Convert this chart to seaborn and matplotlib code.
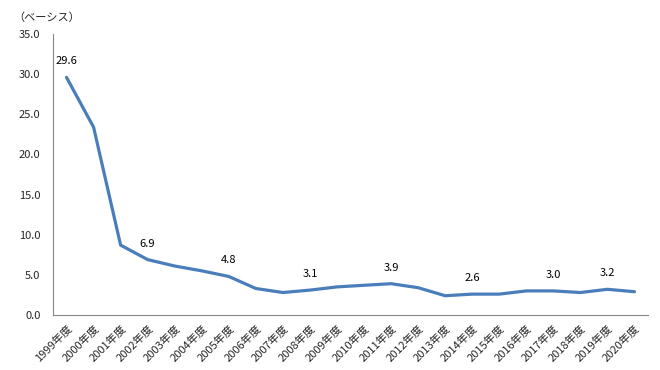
import matplotlib
matplotlib.use("Agg")
import matplotlib.pyplot as plt
import seaborn as sns
import pandas as pd
import numpy as np

years = ["1999年度", "2000年度", "2001年度", "2002年度", "2003年度", "2004年度", "2005年度",
         "2006年度", "2007年度", "2008年度", "2009年度", "2010年度", "2011年度", "2012年度",
         "2013年度", "2014年度", "2015年度", "2016年度", "2017年度", "2018年度", "2019年度", "2020年度"]
values = [29.6, 23.4, 8.7, 6.9, 6.1, 5.5, 4.8, 3.3, 2.8, 3.1, 3.5, 3.7, 3.9, 3.4,
          2.4, 2.6, 2.6, 3.0, 3.0, 2.8, 3.2, 2.9]
labeled_years = ["1999年度", "2002年度", "2005年度", "2008年度", "2011年度", "2014年度", "2017年度", "2019年度"]
y_ticks = [0, 5, 10, 15, 20, 25, 30, 35]
unit_label = "（ベーシス）"

sns.set_style("white")
plt.rcParams["font.family"] = ["Noto Sans CJK JP", "DejaVu Sans"]

FS = 8

df = pd.DataFrame({"pos": np.arange(len(years)), "year": years, "value": values})

fig = plt.figure(figsize=(6.6, 3.7), dpi=100)
ax = fig.add_axes([53 / 660, 1 - 315 / 370, (648 - 53) / 660, (315 - 34) / 370])

sns.lineplot(data=df, x="pos", y="value", ax=ax, color="#4A7EBB", linewidth=2.3)

for _, r in df.iterrows():
    if r["year"] in labeled_years:
        ax.annotate(f"{r['value']:.1f}", (r["pos"], r["value"]), xytext=(0, 11.5),
                    textcoords="offset points", ha="center", va="center", fontsize=FS,
                    color="#000000")

ax.set_xlim(-0.5, len(years) - 0.5)
ax.set_ylim(0, 35)
ax.set_yticks(y_ticks)
ax.set_yticklabels([f"{v:.1f}" for v in y_ticks], fontsize=FS)
ax.set_xticks(df["pos"])
ax.set_xticklabels(years, rotation=45, ha="right", rotation_mode="anchor", fontsize=FS)
ax.set_xticks(np.arange(-0.5, len(years)), minor=True)
ax.tick_params(axis="x", which="major", length=0, pad=6)
ax.tick_params(axis="x", which="minor", length=3.5, width=0.8, color="#868686", direction="out")
ax.tick_params(axis="y", which="major", length=3, width=0.8, color="#868686", direction="out", pad=6)
ax.set_xlabel("")
ax.set_ylabel("")
for s in ["top", "right"]:
    ax.spines[s].set_visible(False)
for s in ["left", "bottom"]:
    ax.spines[s].set_color("#868686")
    ax.spines[s].set_linewidth(0.8)
ax.grid(False)

fig.text(13 / 660, 1 - 18 / 370, unit_label, fontsize=FS, ha="left", va="center")

fig.savefig("out.png", dpi=100)
